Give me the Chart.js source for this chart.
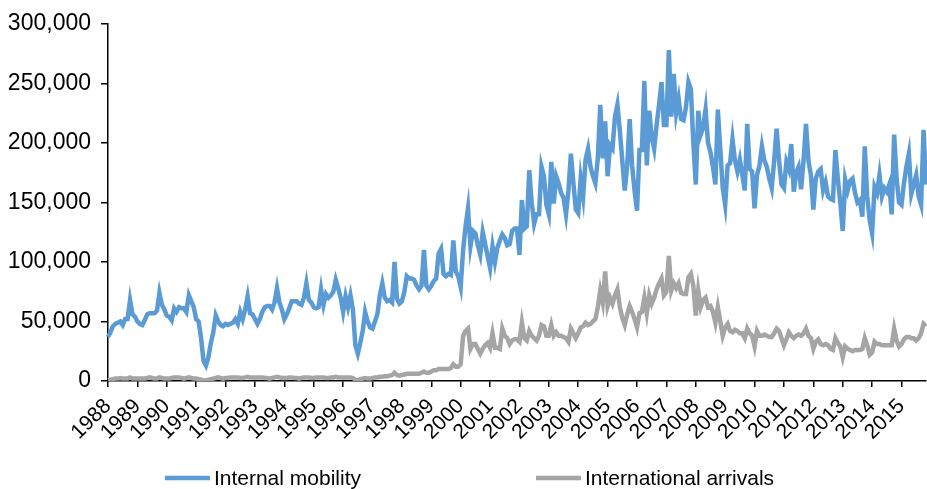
<!DOCTYPE html>
<html>
<head>
<meta charset="utf-8">
<script src="https://cdn.jsdelivr.net/npm/chart.js@4.4.1/dist/chart.umd.min.js"></script>
<style>
  html, body { margin: 0; padding: 0; background: #fff; }
</style>
</head>
<body>
<canvas id="graficoMobilidade" width="927" height="489"></canvas>
<script>
// Dados mensais, jan/1988 a nov/2015
const anos = [1988, 1989, 1990, 1991, 1992, 1993, 1994, 1995, 1996, 1997, 1998, 1999, 2000, 2001,
              2002, 2003, 2004, 2005, 2006, 2007, 2008, 2009, 2010, 2011, 2012, 2013, 2014, 2015];
const meses = ['Jan', 'Feb', 'Mar', 'Apr', 'May', 'Jun', 'Jul', 'Aug', 'Sep', 'Oct', 'Nov', 'Dec'];
const nomesSeries = ['Internal mobility', 'International arrivals'];

const mobilidadeInterna = [
    37000, 41000, 46000, 48000, 49000, 50000, 47000, 52000, 52000, 68000, 56000, 54000,        // 1988
    50000, 48000, 47000, 51000, 56000, 57000, 57000, 57000, 59000, 74000, 64000, 60000,        // 1989
    55000, 54000, 51000, 61000, 58000, 62000, 61000, 61000, 58000, 72000, 67000, 62000,        // 1990
    52000, 50000, 36000, 17000, 13000, 20000, 32000, 41000, 55000, 50000, 47000, 46000,        // 1991
    48000, 47000, 48000, 49000, 52000, 48000, 58000, 52000, 60000, 71000, 57000, 56000,        // 1992
    52000, 48000, 52000, 58000, 62000, 63000, 63000, 60000, 66000, 78000, 66000, 60000,        // 1993
    52000, 56000, 61000, 67000, 67000, 67000, 65000, 64000, 70000, 82000, 68000, 66000,        // 1994
    62000, 61000, 62000, 77000, 64000, 73000, 70000, 72000, 75000, 85000, 78000, 70000,        // 1995
    58000, 71000, 62000, 72000, 60000, 30000, 23000, 32000, 42000, 58000, 50000, 45000,        // 1996
    44000, 50000, 56000, 72000, 82000, 70000, 67000, 68000, 66000, 100000, 69000, 65000,       // 1997
    67000, 75000, 88000, 86000, 86000, 85000, 80000, 77000, 80000, 110000, 80000, 77000,       // 1998
    80000, 84000, 86000, 107000, 111000, 90000, 88000, 90000, 89000, 118000, 92000, 88000,     // 1999
    79000, 110000, 130000, 145000, 113000, 126000, 124000, 114000, 106000, 125000, 115000, 105000, // 2000
    95000, 113000, 100000, 112000, 118000, 123000, 120000, 114000, 115000, 126000, 128000, 128000, // 2001
    106000, 152000, 128000, 130000, 177000, 150000, 132000, 140000, 140000, 180000, 172000, 148000, // 2002
    140000, 184000, 149000, 172000, 166000, 158000, 154000, 140000, 160000, 191000, 167000, 144000, // 2003
    141000, 170000, 155000, 186000, 195000, 180000, 172000, 166000, 187000, 232000, 187000, 218000, // 2004
    172000, 198000, 195000, 222000, 232000, 210000, 185000, 160000, 181000, 220000, 181000, 160000, // 2005
    143000, 194000, 194000, 252000, 181000, 227000, 205000, 195000, 215000, 232000, 251000, 215000, // 2006
    215000, 278000, 222000, 258000, 225000, 237000, 220000, 219000, 230000, 251000, 245000, 200000, // 2007
    165000, 227000, 207000, 213000, 228000, 200000, 192000, 180000, 165000, 228000, 195000, 162000, // 2008
    148000, 181000, 183000, 203000, 185000, 176000, 186000, 173000, 160000, 216000, 178000, 176000, // 2009
    145000, 173000, 181000, 197000, 185000, 180000, 170000, 162000, 185000, 212000, 185000, 165000, // 2010
    162000, 184000, 178000, 199000, 159000, 175000, 180000, 161000, 185000, 216000, 185000, 173000, // 2011
    144000, 170000, 176000, 178000, 160000, 167000, 155000, 153000, 152000, 194000, 170000, 150000, // 2012
    126000, 169000, 160000, 168000, 170000, 158000, 150000, 152000, 138000, 197000, 155000, 135000, // 2013
    124000, 163000, 158000, 173000, 155000, 162000, 159000, 165000, 140000, 207000, 170000, 150000, // 2014
    148000, 166000, 180000, 191000, 157000, 165000, 173000, 155000, 148000, 211000, 165000          // 2015
];

const chegadasInternacionais = [
    500, 1000, 1500, 2000, 2000, 2500, 2000, 2000, 2000, 3000, 2000, 2000,                     // 1988
    2000, 2000, 2000, 2000, 2500, 3000, 2500, 2000, 2000, 3000, 2500, 2000,                    // 1989
    2000, 2000, 2500, 3000, 3000, 3000, 2500, 2000, 2500, 3000, 2500, 2000,                    // 1990
    2000, 1500, 1000, 500, 500, 1000, 1500, 2000, 2500, 3000, 2500, 2000,                      // 1991
    2500, 2500, 3000, 3000, 3000, 3000, 2500, 2500, 3000, 3500, 3000, 3000,                    // 1992
    3000, 3000, 3000, 3000, 2500, 2500, 2000, 2500, 3000, 3500, 3000, 2500,                    // 1993
    2500, 2500, 3000, 3000, 2500, 2500, 2000, 2500, 3000, 3000, 3000, 2500,                    // 1994
    2500, 3000, 3000, 3000, 3000, 2500, 2500, 3000, 3000, 3500, 3000, 3000,                    // 1995
    3000, 3000, 3000, 3000, 2500, 1000, 500, 1500, 2000, 2500, 2000, 2000,                     // 1996
    2500, 3000, 3000, 3500, 3500, 4000, 4000, 4500, 5000, 7000, 5000, 4500,                    // 1997
    5000, 5500, 6000, 6000, 6000, 6000, 6000, 6000, 7000, 8000, 7000, 7000,                    // 1998
    8000, 9000, 9000, 10000, 10000, 10000, 10000, 10000, 11000, 14000, 12000, 12000,           // 1999
    14000, 38000, 42000, 44000, 27000, 31000, 31000, 27000, 23000, 27000, 30000, 32000,        // 2000
    28000, 40000, 28000, 28000, 27000, 44000, 38000, 36000, 31000, 34000, 35000, 35000,        // 2001
    33000, 49000, 36000, 34000, 42000, 38000, 36000, 34000, 38000, 47000, 46000, 38000,        // 2002
    38000, 47000, 38000, 41000, 38000, 38000, 37000, 36000, 33000, 44000, 40000, 36000,        // 2003
    40000, 45000, 46000, 49000, 47000, 48000, 50000, 52000, 62000, 76000, 66000, 92000,        // 2004
    63000, 70000, 65000, 72000, 77000, 62000, 53000, 47000, 56000, 63000, 58000, 52000,        // 2005
    45000, 57000, 58000, 70000, 57000, 72000, 65000, 70000, 77000, 82000, 86000, 72000,        // 2006
    75000, 105000, 76000, 82000, 78000, 82000, 74000, 73000, 73000, 87000, 90000, 80000,       // 2007
    55000, 76000, 62000, 68000, 70000, 62000, 63000, 58000, 49000, 62000, 50000, 38000,        // 2008
    45000, 48000, 42000, 41000, 43000, 42000, 40000, 40000, 36000, 44000, 40000, 38000,        // 2009
    29000, 42000, 38000, 38000, 39000, 38000, 37000, 37000, 40000, 44000, 42000, 36000,        // 2010
    30000, 35000, 41000, 38000, 36000, 38000, 39000, 38000, 40000, 44000, 38000, 36000,        // 2011
    27000, 33000, 35000, 31000, 30000, 31000, 30000, 27000, 26000, 36000, 32000, 29000,        // 2012
    20000, 29000, 27000, 26000, 25000, 26000, 26000, 26000, 27000, 36000, 30000, 22000,        // 2013
    24000, 33000, 31000, 31000, 30000, 30000, 30000, 30000, 30000, 44000, 34000, 29000,        // 2014
    31000, 35000, 37000, 37000, 36000, 36000, 34000, 36000, 40000, 48000, 46000                // 2015
];

const FONTE = '"Liberation Sans", Arial, sans-serif';

// Rótulos mensais (um por ponto)
const rotulos = anos.flatMap(ano => meses.map(m => `${m} ${ano}`)).slice(0, mobilidadeInterna.length);

// Legenda embaixo, com o espaçamento largo do original
const legendaInferior = {
    id: 'legendaInferior',
    afterDraw(chart) {
        const ctx = chart.ctx;
        const y = 478;
        const linha = 45, espaco = 4, intervalo = 175;
        ctx.save();
        ctx.font = `21px ${FONTE}`;
        ctx.textBaseline = 'middle';
        const itens = chart.data.datasets.map(ds => ({
            texto: ds.label,
            cor: ds.borderColor,
            largura: linha + espaco + ctx.measureText(ds.label).width
        }));
        const total = itens.reduce((s, it) => s + it.largura, 0) + intervalo * (itens.length - 1);
        let x = (chart.width - total) / 2 + 6;
        itens.forEach(it => {
            ctx.strokeStyle = it.cor;
            ctx.lineWidth = 4.5;
            ctx.beginPath();
            ctx.moveTo(x, y);
            ctx.lineTo(x + linha, y);
            ctx.stroke();
            ctx.fillStyle = '#000';
            ctx.fillText(it.texto, x + linha + espaco, y + 1);
            x += it.largura + intervalo;
        });
        ctx.restore();
    }
};

const ctx = document.getElementById('graficoMobilidade').getContext('2d');

new Chart(ctx, {
    type: 'line',
    data: {
        labels: rotulos,
        datasets: [
            { label: nomesSeries[0], data: mobilidadeInterna, borderColor: '#5B9BD5', borderWidth: 4.5, pointRadius: 0, tension: 0 },
            { label: nomesSeries[1], data: chegadasInternacionais, borderColor: '#A5A5A5', borderWidth: 4.5, pointRadius: 0, tension: 0 }
        ]
    },
    options: {
        responsive: false,
        animation: false,
        layout: { padding: { top: 21, right: 1, left: 0, bottom: 0 } },
        plugins: {
            legend: { display: false },
            tooltip: { enabled: false }
        },
        scales: {
            x: {
                type: 'category',
                grid: { drawOnChartArea: false, tickLength: 6, color: '#000', lineWidth: 1.5 },
                border: { color: '#000', width: 1.5 },
                ticks: {
                    autoSkip: false,
                    minRotation: 45,
                    maxRotation: 45,
                    padding: 7,
                    color: '#000',
                    font: { family: FONTE, size: 21 },
                    callback: (valor, indice) => indice % 12 === 0 ? String(anos[indice / 12]) : null
                },
                afterFit: escala => { escala.height = 108; }
            },
            y: {
                min: 0,
                max: 300000,
                grid: { drawOnChartArea: false, tickLength: 7, color: '#000', lineWidth: 1.5 },
                border: { color: '#000', width: 1.5 },
                ticks: {
                    stepSize: 50000,
                    padding: 10,
                    color: '#000',
                    font: { family: FONTE, size: 23 },
                    callback: v => v.toLocaleString('en-US')
                },
                afterFit: escala => { escala.width = 108; }
            }
        }
    },
    plugins: [legendaInferior]
});
</script>
</body>
</html>
